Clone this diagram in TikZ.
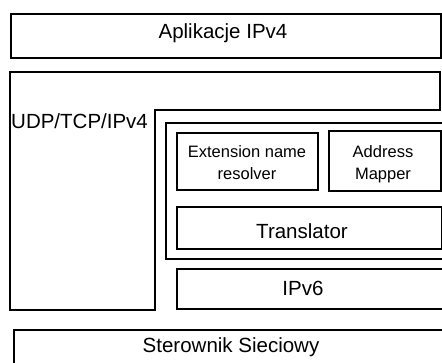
\documentclass[tikz,border=0pt]{standalone}
\usepackage{fontspec}
\setmainfont{Liberation Sans}
\begin{document}
\begin{tikzpicture}[x=1pt,y=-1pt,
  box/.style={draw=black, line width=1.5pt, rectangle, inner sep=0pt, anchor=north west},
  lbl/.style={inner sep=0pt, anchor=base, font=\fontsize{20.5}{22}\selectfont},
  slbl/.style={inner sep=0pt, anchor=base, font=\fontsize{16.5}{18}\selectfont}]
\useasboundingbox (0,0) rectangle (442,362);
\clip (0,0) rectangle (442,362);
% Aplikacje IPv4
\node[box, minimum width=430pt, minimum height=44pt] (apl) at (10,13) {};
\node[lbl] (taple) at (223,38) {Aplikacje IPv4};
% UDP/TCP/IPv4 (inverted L)
\coordinate (u1) at (10,72);
\coordinate (u2) at (440,72);
\coordinate (u3) at (440,110);
\coordinate (u4) at (155,110);
\coordinate (u5) at (155,310);
\coordinate (u6) at (10,310);
\draw[line width=1.5pt] (u1) -- (u2) -- (u3) -- (u4) -- (u5) -- (u6) -- cycle;
\node[lbl, anchor=base west] (tudp) at (11,128) {UDP/TCP/IPv4};
% container
\node[box, minimum width=300pt, minimum height=136pt] (cont) at (165,122) {};
% Extension name resolver
\node[box, minimum width=141pt, minimum height=57pt] (ext) at (176,132) {};
\node[slbl] (text) at (247,157) {Extension name};
\node[slbl] (text2) at (247,179) {resolver};
% Address Mapper
\node[box, minimum width=112pt, minimum height=60pt] (addr) at (328,130) {};
\node[slbl] (taddr) at (383,157) {Address};
\node[slbl] (taddr2) at (383,179) {Mapper};
% Translator
\node[box, minimum width=265pt, minimum height=42pt] (trans) at (176,206) {};
\node[lbl] (ttrans) at (302,238) {Translator};
% IPv6
\node[box, minimum width=300pt, minimum height=40pt] (ipv6) at (176,268) {};
\node[lbl] (tipv6) at (303,295) {IPv6};
% Sterownik Sieciowy
\node[box, minimum width=460pt, minimum height=60pt] (ster) at (13,329) {};
\node[lbl] (tster) at (231,352) {Sterownik Sieciowy};
\end{tikzpicture}
\end{document}
